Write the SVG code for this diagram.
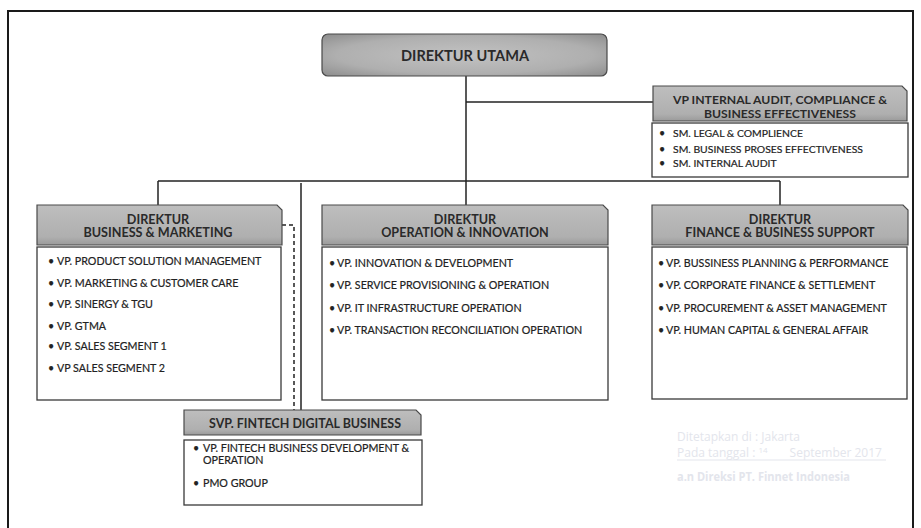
<svg xmlns="http://www.w3.org/2000/svg" width="921" height="528" viewBox="0 0 921 528">
<defs>
<linearGradient id="hdr" x1="0" y1="0" x2="0" y2="1">
<stop offset="0" stop-color="#bebebe"/>
<stop offset="0.8" stop-color="#afafaf"/>
<stop offset="1" stop-color="#9a9a9a"/>
</linearGradient>
<radialGradient id="top" cx="0.5" cy="0.5" r="0.75">
<stop offset="0" stop-color="#c2c2c2"/>
<stop offset="0.6" stop-color="#afafaf"/>
<stop offset="1" stop-color="#868686"/>
</radialGradient>
</defs>
<style>
.hdr{fill:url(#hdr);stroke:#4a4a4a;stroke-width:1.2}
.box{fill:#ffffff;stroke:#3a3a3a;stroke-width:1.3}
.ht{font-family:Lato,"Open Sans",sans-serif;font-weight:700;fill:#2a2a2a;text-anchor:middle}
.dh{font-size:12.6px}
.it{font-family:Lato,"Open Sans",sans-serif;font-size:10.7px;fill:#222;stroke:#222;stroke-width:0.2}
.sm{font-size:10.4px}
.ln{stroke:#222;stroke-width:1.5;fill:none}
.dash{stroke:#222;stroke-width:1.5;fill:none;stroke-dasharray:4 3}
.stamp{font-family:"Open Sans",sans-serif;font-size:12px;fill:#e3e5ec}
</style>
<rect width="921" height="528" fill="#ffffff"/>
<rect x="8" y="11" width="905" height="540" fill="none" stroke="#1a1a1a" stroke-width="2"/>

<g id="connectors">
<path class="ln" d="M466 76 V181"/>
<path class="ln" d="M466 102 H653"/>
<path class="ln" d="M158 181 H780"/>
<path class="ln" d="M158 181 V205"/>
<path class="ln" d="M466 181 V205"/>
<path class="ln" d="M780 181 V205"/>
<path class="ln" d="M301 183 V410"/>
<path class="dash" d="M282 225 H294 V410"/>
</g>

<g id="direktur-utama">
<rect x="322" y="34" width="285" height="42" rx="6" fill="url(#top)" stroke="#4a4a4a" stroke-width="1.2"/>
<text class="ht" x="465" y="61" font-size="15" textLength="128" lengthAdjust="spacingAndGlyphs">DIREKTUR UTAMA</text>
</g>

<g id="vp-internal-audit">
<path class="hdr" d="M653 86 H902 L907 91 V121 H653 Z"/>
<text class="ht" x="780" y="104" font-size="12.2">VP INTERNAL AUDIT, COMPLIANCE &amp;</text>
<text class="ht" x="780" y="117.5" font-size="12.2">BUSINESS EFFECTIVENESS</text>
<rect class="box" x="652" y="123" width="256" height="54"/>
<text class="it" x="659" y="137">•</text><text class="it sm" x="673" y="137">SM. LEGAL &amp; COMPLIENCE</text>
<text class="it" x="659" y="153">•</text><text class="it sm" x="673" y="153">SM. BUSINESS PROSES EFFECTIVENESS</text>
<text class="it" x="659" y="167">•</text><text class="it sm" x="673" y="167">SM. INTERNAL AUDIT</text>
</g>

<g id="direktur-business-marketing">
<path class="hdr" d="M37 205 H277 L282 210 V245 H37 Z"/>
<text class="ht dh" x="158" y="223.5">DIREKTUR</text>
<text class="ht dh" x="158" y="237">BUSINESS &amp; MARKETING</text>
<rect class="box" x="37" y="247" width="244" height="153"/>
<text class="it" x="48" y="265">•</text><text class="it" x="57" y="265">VP. PRODUCT SOLUTION MANAGEMENT</text>
<text class="it" x="48" y="287">•</text><text class="it" x="57" y="287">VP. MARKETING &amp; CUSTOMER CARE</text>
<text class="it" x="48" y="308">•</text><text class="it" x="57" y="308">VP. SINERGY &amp; TGU</text>
<text class="it" x="48" y="330">•</text><text class="it" x="57" y="330">VP. GTMA</text>
<text class="it" x="48" y="350">•</text><text class="it" x="57" y="350">VP. SALES SEGMENT 1</text>
<text class="it" x="48" y="372">•</text><text class="it" x="57" y="372">VP SALES SEGMENT 2</text>
</g>

<g id="direktur-operation-innovation">
<path class="hdr" d="M322 205 H603 L608 210 V245 H322 Z"/>
<text class="ht dh" x="465" y="223.5">DIREKTUR</text>
<text class="ht dh" x="465" y="237">OPERATION &amp; INNOVATION</text>
<rect class="box" x="322" y="247" width="286" height="153"/>
<text class="it" x="329" y="267">•</text><text class="it" x="337" y="267">VP. INNOVATION &amp; DEVELOPMENT</text>
<text class="it" x="329" y="289">•</text><text class="it" x="337" y="289">VP. SERVICE PROVISIONING &amp; OPERATION</text>
<text class="it" x="329" y="312">•</text><text class="it" x="337" y="312">VP. IT INFRASTRUCTURE OPERATION</text>
<text class="it" x="329" y="334">•</text><text class="it" x="337" y="334">VP. TRANSACTION RECONCILIATION OPERATION</text>
</g>

<g id="direktur-finance-business-support">
<path class="hdr" d="M652 205 H903 L908 210 V245 H652 Z"/>
<text class="ht dh" x="780" y="223.5">DIREKTUR</text>
<text class="ht dh" x="780" y="237">FINANCE &amp; BUSINESS SUPPORT</text>
<rect class="box" x="652" y="247" width="255" height="152"/>
<text class="it" x="658" y="267">•</text><text class="it" x="666" y="267">VP. BUSSINESS PLANNING &amp; PERFORMANCE</text>
<text class="it" x="658" y="289">•</text><text class="it" x="666" y="289">VP. CORPORATE FINANCE &amp; SETTLEMENT</text>
<text class="it" x="658" y="312">•</text><text class="it" x="666" y="312">VP. PROCUREMENT &amp; ASSET MANAGEMENT</text>
<text class="it" x="658" y="334">•</text><text class="it" x="666" y="334">VP. HUMAN CAPITAL &amp; GENERAL AFFAIR</text>
</g>

<g id="svp-fintech-digital-business">
<path class="hdr" d="M184 410 H416 L421 415 V435 H184 Z"/>
<text class="ht" x="305" y="428" font-size="13.5" textLength="192" lengthAdjust="spacingAndGlyphs">SVP. FINTECH DIGITAL BUSINESS</text>
<rect class="box" x="184" y="440" width="238" height="65"/>
<text class="it" x="193" y="452">•</text><text class="it" x="203" y="452" font-size="10.5">VP. FINTECH BUSINESS DEVELOPMENT &amp;</text>
<text class="it" x="203" y="464" font-size="10.5">OPERATION</text>
<text class="it" x="193" y="487">•</text><text class="it" x="203" y="487" font-size="10.5">PMO GROUP</text>
</g>

<g id="stamp">
<text class="stamp" x="677" y="441">Ditetapkan di  :  Jakarta</text>
<text class="stamp" x="677" y="457">Pada tanggal  :  <tspan dy="-4" font-size="8">14</tspan><tspan dy="4" dx="22">September  2017</tspan></text>
<path d="M677 460 H886" stroke="#e3e5ec" stroke-width="1"/>
<text class="stamp" x="677" y="481" font-weight="700" font-size="11.2" textLength="173" lengthAdjust="spacingAndGlyphs">a.n Direksi PT. Finnet Indonesia</text>
</g>
</svg>
